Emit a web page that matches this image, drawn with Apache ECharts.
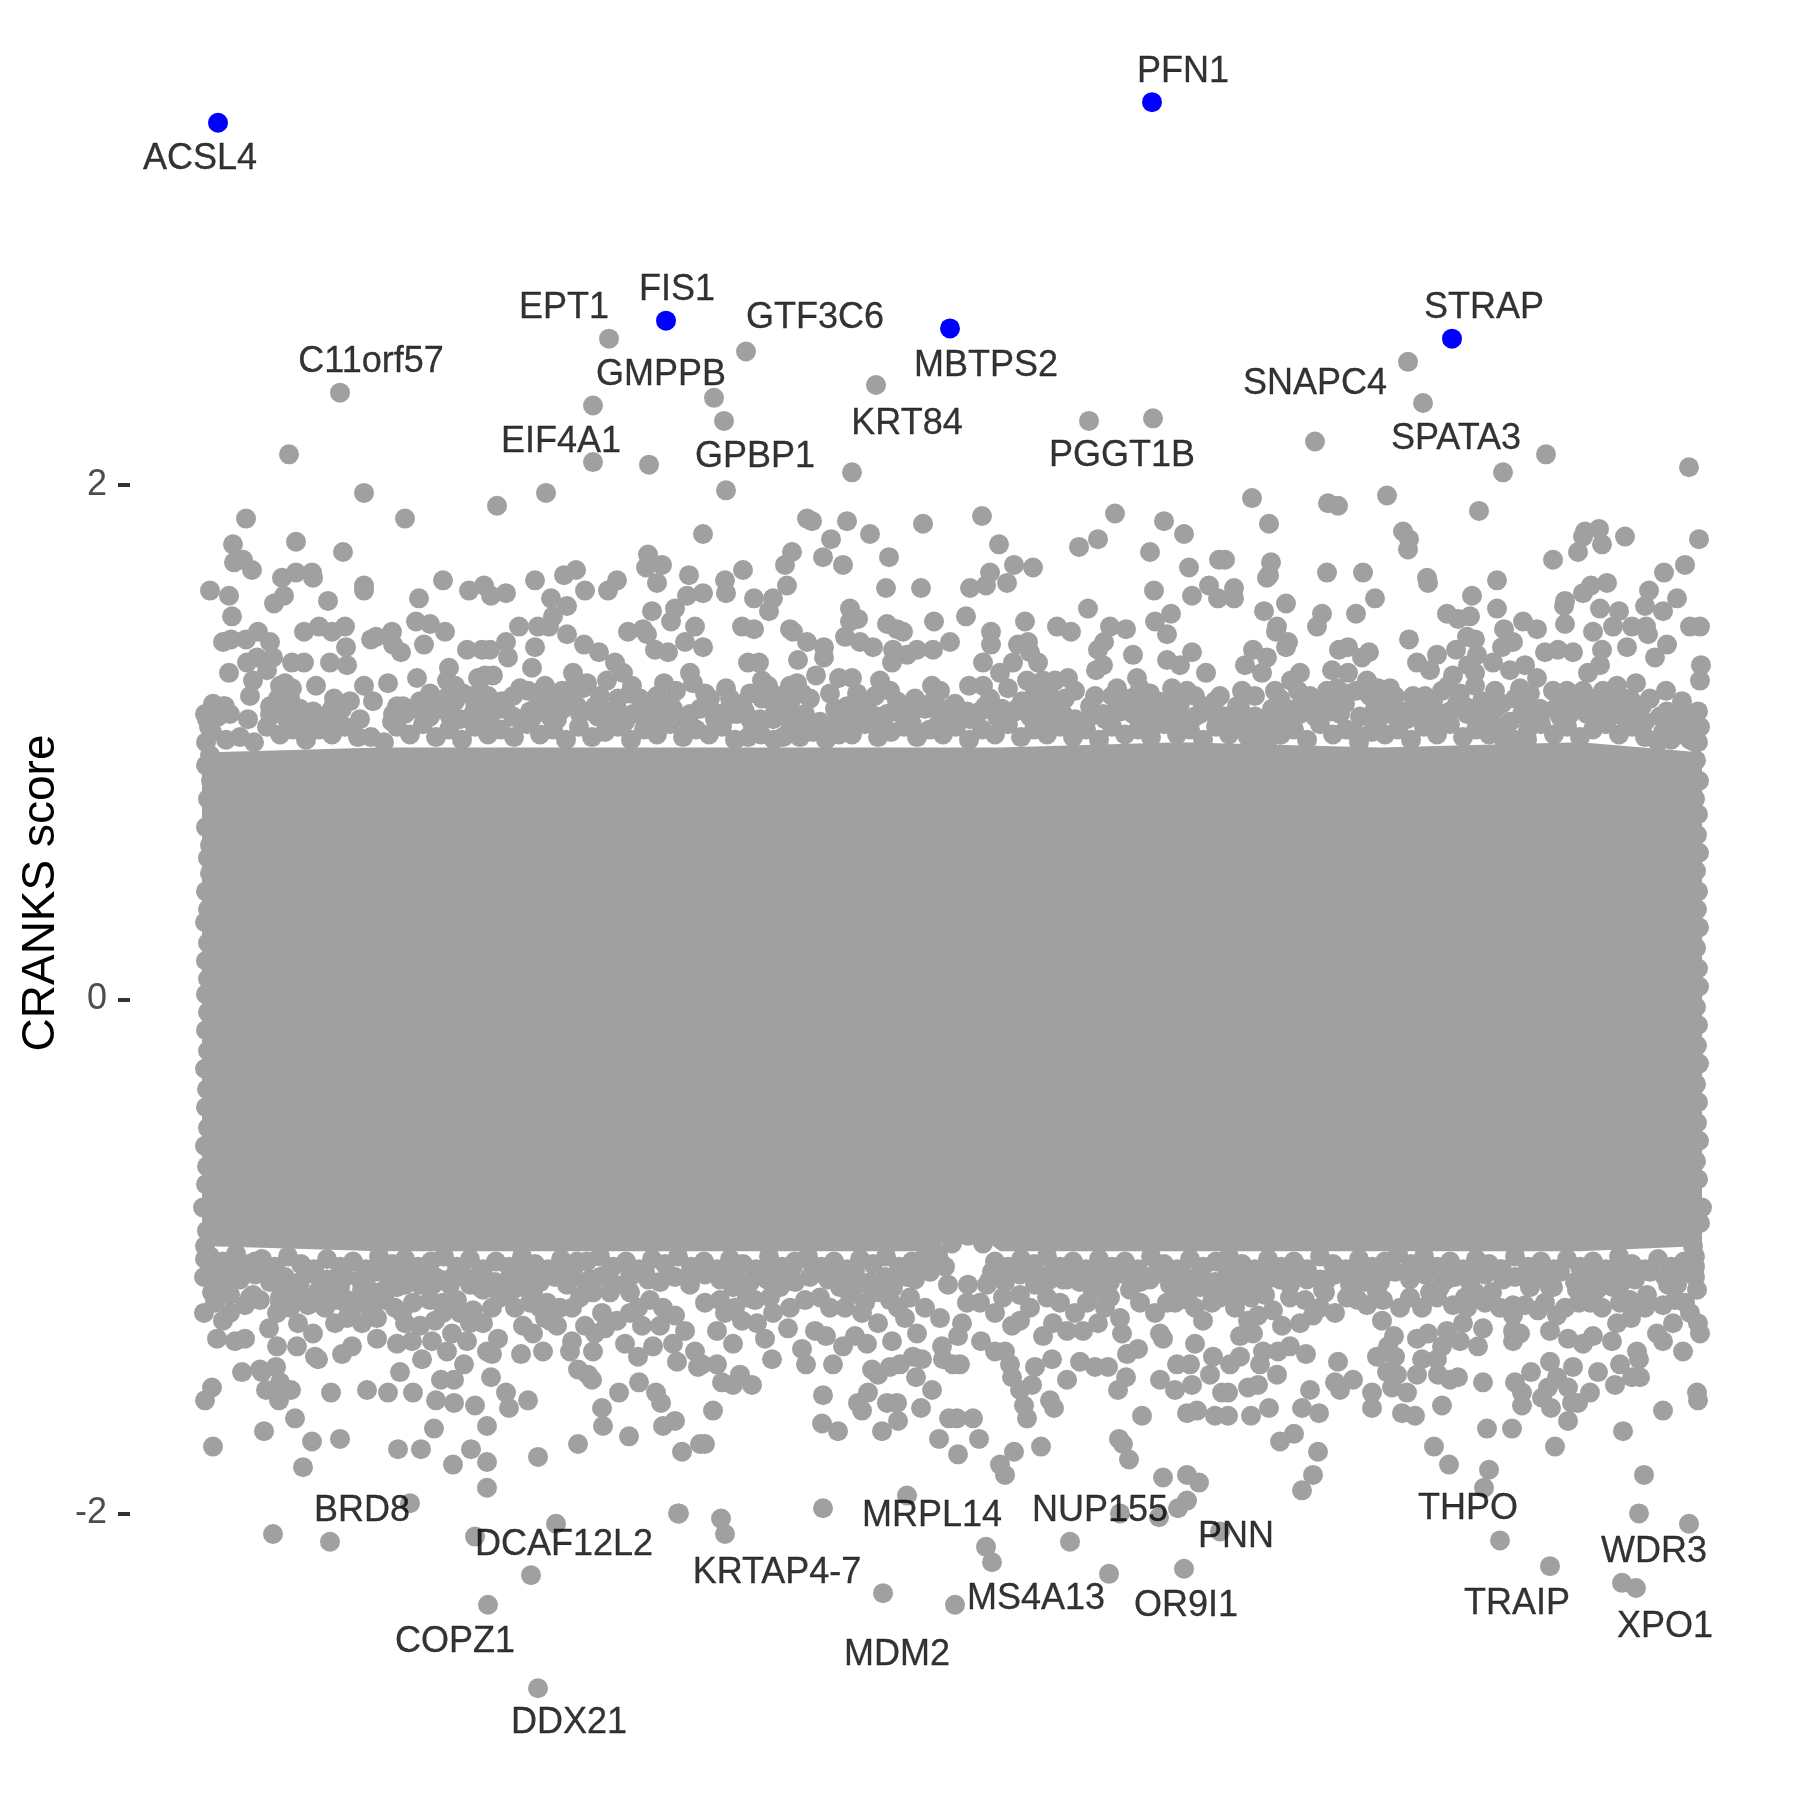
<!DOCTYPE html>
<html lang="en">
  <head>
    <meta charset="utf-8" />
    <title>CRANKS score</title>
    <script src="https://cdn.jsdelivr.net/npm/echarts@6/dist/echarts.min.js"></script>
    <style>
      html, body { margin: 0; background: #fff; }
      #chart { width: 1800px; height: 1800px; }
    </style>
  </head>
  <body>
    <div id="chart"></div>
    <script>
      // x is gene order (no axis drawn), y is the CRANKS score, all read off the picture
      const hitGenes = [[88, 3.41], [536, 2.64], [820, 2.61], [1022, 3.49], [1322, 2.57]]

      const farDots = [
        [479, 2.57], [616, 2.52], [746, 2.39], [210, 2.36], [463, 2.31], [584, 2.34], [594, 2.25], [159, 2.12], [463, 2.09],
        [519, 2.08], [722, 2.05], [596, 1.98], [416, 1.97], [234, 1.97], [1278, 2.48], [1293, 2.32], [959, 2.25], [1023, 2.26],
        [1185, 2.17], [1416, 2.12], [1373, 2.05], [1559, 2.07]
      ]

      const upperLeftDots = [
        [367, 1.92], [116, 1.87], [275, 1.87], [103, 1.77], [166, 1.78], [213, 1.74], [113, 1.71], [104, 1.70], [122, 1.67], [80, 1.59],
        [99, 1.57], [102, 1.49], [152, 1.64], [166, 1.66], [182, 1.66], [183, 1.64], [154, 1.57], [144, 1.54], [198, 1.55], [234, 1.61],
        [234, 1.59], [313, 1.63], [339, 1.59], [354, 1.61], [361, 1.57], [376, 1.58], [289, 1.56], [405, 1.63], [434, 1.65], [446, 1.67],
        [455, 1.59], [478, 1.59], [487, 1.63], [421, 1.56], [437, 1.53], [423, 1.49], [419, 1.45], [408, 1.45], [518, 1.73], [516, 1.68],
        [532, 1.69], [527, 1.62], [559, 1.65], [573, 1.81], [522, 1.51], [545, 1.52], [541, 1.47], [557, 1.57], [498, 1.43], [513, 1.44],
        [517, 1.42], [525, 1.36], [538, 1.35], [555, 1.39], [565, 1.45], [93, 1.39], [101, 1.40], [116, 1.40], [128, 1.43], [140, 1.39],
        [174, 1.43], [189, 1.45], [202, 1.43], [215, 1.45], [216, 1.37], [241, 1.40], [246, 1.41], [262, 1.43], [263, 1.38], [271, 1.35],
        [286, 1.47], [300, 1.46], [315, 1.43], [294, 1.38], [389, 1.45], [376, 1.39], [337, 1.36], [352, 1.36], [360, 1.36], [378, 1.33],
        [405, 1.37], [402, 1.29], [437, 1.42], [454, 1.38], [469, 1.35], [485, 1.31], [493, 1.27], [443, 1.27], [457, 1.23], [477, 1.24],
        [502, 1.22], [500, 1.19], [534, 1.23], [560, 1.27], [563, 1.23], [99, 1.27], [117, 1.31], [127, 1.33], [143, 1.33], [137, 1.28],
        [123, 1.24], [120, 1.18], [155, 1.23], [162, 1.31], [174, 1.31], [200, 1.31], [217, 1.30], [186, 1.22], [234, 1.22], [243, 1.16],
        [258, 1.23], [287, 1.25], [319, 1.29], [317, 1.24], [325, 1.22], [325, 1.16], [355, 1.26], [348, 1.25], [363, 1.26], [358, 1.18],
        [345, 1.16], [204, 1.17], [220, 1.16], [383, 1.18], [398, 1.20], [407, 1.19], [423, 1.17], [438, 1.18], [453, 1.21], [148, 1.17],
        [160, 1.17], [85, 1.13], [95, 1.14], [77, 1.09], [118, 1.09], [143, 1.11], [183, 1.12], [202, 1.13], [230, 1.09], [267, 1.14],
        [290, 1.16], [303, 1.14], [343, 1.11], [400, 1.12], [427, 1.09], [462, 1.12], [480, 1.09], [517, 1.13], [540, 1.15]
      ]

      const upperMiddleDots = [
        [677, 1.87], [682, 1.86], [717, 1.86], [701, 1.79], [740, 1.81], [793, 1.85], [852, 1.88], [869, 1.77], [662, 1.74], [655, 1.69],
        [693, 1.72], [713, 1.69], [759, 1.72], [613, 1.67], [595, 1.63], [596, 1.58], [573, 1.58], [657, 1.61], [756, 1.60], [791, 1.60],
        [624, 1.56], [643, 1.56], [639, 1.51], [884, 1.69], [903, 1.68], [860, 1.66], [856, 1.61], [840, 1.60], [877, 1.62], [949, 1.76],
        [968, 1.79], [985, 1.89], [1034, 1.86], [1054, 1.81], [1020, 1.74], [1059, 1.68], [1089, 1.71], [1079, 1.61], [1062, 1.57], [1088, 1.56],
        [1024, 1.59], [958, 1.52], [1041, 1.50], [1025, 1.47], [1037, 1.42], [720, 1.52], [720, 1.47], [728, 1.48], [715, 1.41], [730, 1.39],
        [743, 1.37], [757, 1.46], [767, 1.44], [773, 1.43], [804, 1.47], [836, 1.49], [820, 1.39], [895, 1.47], [861, 1.43], [861, 1.38],
        [803, 1.36], [787, 1.36], [777, 1.34], [763, 1.36], [762, 1.31], [612, 1.45], [624, 1.44], [660, 1.44], [663, 1.43], [677, 1.39],
        [694, 1.37], [694, 1.33], [668, 1.32], [618, 1.31], [629, 1.31], [573, 1.37], [686, 1.26], [709, 1.25], [722, 1.25], [750, 1.24],
        [802, 1.22], [839, 1.22], [853, 1.22], [853, 1.31], [888, 1.38], [898, 1.39], [900, 1.35], [883, 1.31], [908, 1.31], [870, 1.27],
        [927, 1.45], [941, 1.43], [980, 1.45], [996, 1.44], [974, 1.39], [968, 1.36], [973, 1.30], [966, 1.28], [1003, 1.34], [1037, 1.32],
        [1062, 1.35], [1050, 1.30], [1076, 1.27], [1007, 1.25], [1042, 1.21], [1057, 1.20], [1073, 1.14], [938, 1.25], [925, 1.24], [913, 1.24],
        [897, 1.24], [935, 1.17], [987, 1.21], [982, 1.18], [1010, 1.21], [1028, 1.16], [632, 1.24], [638, 1.22], [632, 1.17], [638, 1.18],
        [660, 1.22], [667, 1.23], [672, 1.19], [660, 1.15], [596, 1.21], [580, 1.17], [612, 1.15], [643, 1.09], [727, 1.19], [717, 1.14],
        [737, 1.15], [767, 1.16], [773, 1.14], [803, 1.16], [820, 1.13], [837, 1.12], [850, 1.12], [867, 1.10], [892, 1.16], [917, 1.14],
        [960, 1.10], [1003, 1.11], [1040, 1.09], [708, 1.09], [602, 1.11], [623, 1.06], [782, 1.07], [653, 1.02], [937, 1.06], [1060, 1.09],
        [1087, 1.09]
      ]

      const upperRightDots = [
        [1122, 1.95], [1139, 1.85], [1198, 1.93], [1208, 1.92], [1257, 1.96], [1349, 1.90], [1273, 1.82], [1279, 1.79], [1278, 1.75], [1095, 1.71],
        [1141, 1.70], [1139, 1.65], [1137, 1.64], [1197, 1.66], [1233, 1.66], [1297, 1.64], [1298, 1.62], [1423, 1.71], [1448, 1.74], [1455, 1.82],
        [1453, 1.80], [1469, 1.83], [1472, 1.77], [1495, 1.80], [1569, 1.79], [1555, 1.69], [1534, 1.66], [1367, 1.63], [1104, 1.60], [1104, 1.56],
        [1461, 1.61], [1477, 1.62], [1453, 1.58], [1435, 1.55], [1434, 1.53], [1519, 1.59], [1515, 1.53], [1547, 1.56], [1533, 1.51], [1342, 1.57],
        [1367, 1.52], [1245, 1.56], [1317, 1.50], [1328, 1.48], [1340, 1.49], [1470, 1.52], [1489, 1.51], [1134, 1.51], [1156, 1.54], [1192, 1.50],
        [1187, 1.45], [1226, 1.50], [1147, 1.45], [1146, 1.43], [1156, 1.37], [1158, 1.39], [1393, 1.47], [1407, 1.44], [1374, 1.44], [1383, 1.39],
        [1372, 1.37], [1435, 1.46], [1463, 1.43], [1483, 1.45], [1502, 1.45], [1516, 1.45], [1518, 1.42], [1560, 1.45], [1570, 1.45], [1279, 1.40],
        [1337, 1.41], [1345, 1.40], [1326, 1.36], [1307, 1.34], [1287, 1.31], [1300, 1.28], [1345, 1.27], [1347, 1.34], [1363, 1.31], [1338, 1.30],
        [1537, 1.38], [1497, 1.37], [1525, 1.33], [1472, 1.36], [1470, 1.30], [1458, 1.27], [1571, 1.30], [1570, 1.24], [1415, 1.35], [1428, 1.36],
        [1443, 1.35], [1395, 1.30], [1380, 1.28], [1407, 1.25], [1487, 1.22], [1506, 1.23], [1536, 1.20], [1123, 1.36], [1137, 1.33], [1115, 1.30],
        [1132, 1.27], [1170, 1.27], [1161, 1.24], [1168, 1.20], [1112, 1.20], [1107, 1.14], [1090, 1.18], [1145, 1.20], [1209, 1.36], [1218, 1.37],
        [1232, 1.33], [1239, 1.35], [1202, 1.28], [1218, 1.27], [1237, 1.24], [1248, 1.21], [1226, 1.20], [1197, 1.20], [1207, 1.21], [1247, 1.11],
        [1247, 1.16], [1323, 1.26], [1318, 1.22], [1265, 1.18], [1283, 1.18], [1303, 1.16], [1352, 1.16], [1372, 1.15], [1390, 1.21], [1392, 1.11],
        [1410, 1.13], [1423, 1.20], [1437, 1.20], [1453, 1.20], [1473, 1.20], [1512, 1.14], [1537, 1.12], [1553, 1.13], [1568, 1.12], [1534, 1.04],
        [1560, 1.01], [1557, 1.06], [1105, 1.07], [1142, 1.13], [1157, 1.13], [1178, 1.13], [1203, 1.14], [1267, 1.11], [1287, 1.11], [1327, 1.15],
        [1360, 1.08], [1430, 1.10], [1483, 1.13], [1500, 1.11], [1150, 1.03], [1227, 1.03], [1397, 1.01], [1457, 1.11], [1118, 1.02], [1137, 0.99]
      ]

      // upper edge of the cloud, estimated where the dots run together
      const upperRimDots = [
        [75, 1.11], [83, 1.15], [93, 1.14], [100, 1.11], [140, 1.11], [150, 1.16], [158, 1.13], [167, 1.10], [177, 1.07], [193, 1.10], [207, 1.11], [263, 1.11],
        [273, 1.14], [283, 1.13], [297, 1.14], [310, 1.13], [320, 1.10], [358, 1.13], [370, 1.13], [383, 1.10], [403, 1.10], [417, 1.13], [433, 1.13], [447, 1.14],
        [468, 1.10], [487, 1.13], [503, 1.11], [527, 1.14], [543, 1.13], [560, 1.11], [580, 1.13], [590, 1.11], [607, 1.11], [620, 1.09], [663, 1.11], [670, 1.06],
        [703, 1.05], [717, 1.11], [730, 1.11], [747, 1.10], [757, 1.11], [810, 1.13], [827, 1.11], [872, 1.13], [887, 1.13], [900, 1.10], [933, 1.11], [973, 1.11],
        [987, 1.14], [1020, 1.13], [1028, 1.11], [1050, 1.10], [1070, 1.11], [1112, 1.11], [1123, 1.05], [1170, 1.11], [1190, 1.14], [1210, 1.11], [1247, 1.07], [1260, 1.11],
        [1277, 1.09], [1297, 1.11], [1310, 1.11], [1337, 1.11], [1373, 1.06], [1440, 1.11], [1470, 1.13], [1493, 1.10], [1510, 1.07], [1533, 1.04], [1570, 1.06],
        [82, 1.04], [96, 1.01], [110, 1.02], [124, 1.00], [137, 1.06], [150, 1.03], [163, 1.05], [176, 1.01], [189, 1.05], [202, 1.03], [215, 1.06], [228, 1.02],
        [241, 1.02], [254, 1.00], [267, 1.06], [280, 1.03], [293, 1.07], [306, 1.02], [319, 1.05], [332, 1.01], [345, 1.06], [358, 1.03], [371, 1.05], [384, 1.02],
        [397, 1.07], [410, 1.03], [423, 1.05], [436, 1.01], [449, 1.06], [462, 1.02], [475, 1.04], [488, 1.06], [501, 1.01], [514, 1.05], [527, 1.03], [540, 1.07],
        [553, 1.02], [566, 1.05], [579, 1.03], [592, 1.06], [605, 1.01], [618, 1.02], [631, 1.03], [644, 1.01], [657, 1.03], [670, 1.02], [683, 1.04], [696, 1.01],
        [709, 1.03], [722, 1.03], [735, 1.07], [748, 1.02], [761, 1.04], [774, 1.06], [787, 1.02], [800, 1.05], [813, 1.03], [826, 1.06], [839, 1.01], [852, 1.05],
        [865, 1.03], [878, 1.07], [891, 1.02], [904, 1.05], [917, 1.03], [930, 1.06], [943, 1.02], [956, 1.05], [969, 1.01], [982, 1.06], [995, 1.03], [1008, 1.05],
        [1021, 1.02], [1034, 1.07], [1047, 1.03], [1060, 1.05], [1073, 1.01], [1086, 1.06], [1099, 1.03], [1112, 1.05], [1125, 1.00], [1138, 1.02], [1151, 1.03], [1164, 1.05],
        [1177, 1.01], [1190, 1.07], [1203, 1.03], [1216, 1.05], [1229, 1.00], [1242, 1.04], [1255, 1.03], [1268, 1.05], [1281, 1.01], [1294, 1.06], [1307, 1.03], [1320, 1.07],
        [1333, 1.02], [1346, 1.05], [1359, 1.03], [1372, 1.02], [1385, 1.01], [1398, 1.05], [1411, 1.07], [1424, 1.03], [1437, 1.06], [1450, 1.02], [1463, 1.05], [1476, 1.07],
        [1489, 1.03], [1502, 1.06], [1515, 1.02], [1528, 1.00], [1541, 1.01], [1554, 1.03], [1565, 1.00]
      ]

      const upperFillDots = [
        [88, 1.10], [140, 1.14], [155, 1.10], [170, 1.13], [185, 1.08], [200, 1.10], [212, 1.13], [262, 1.08], [275, 1.11], [288, 1.14], [300, 1.10], [315, 1.13],
        [330, 1.09], [345, 1.13], [360, 1.10], [375, 1.14], [390, 1.09], [405, 1.13], [420, 1.10], [435, 1.15], [450, 1.11], [465, 1.14], [480, 1.12], [495, 1.08],
        [510, 1.12], [525, 1.09], [540, 1.12], [555, 1.09], [570, 1.13], [585, 1.09], [600, 1.14], [615, 1.12], [630, 1.09], [645, 1.12], [660, 1.08], [675, 1.11],
        [690, 1.08], [705, 1.13], [720, 1.09], [735, 1.14], [750, 1.09], [765, 1.12], [780, 1.10], [795, 1.13], [810, 1.09], [825, 1.15], [840, 1.09], [855, 1.14],
        [870, 1.09], [885, 1.12], [900, 1.15], [915, 1.10], [930, 1.14], [945, 1.09], [960, 1.14], [975, 1.09], [990, 1.12], [1005, 1.15], [1020, 1.09], [1035, 1.13],
        [1050, 1.15], [1065, 1.10], [1080, 1.13], [1095, 1.10], [1110, 1.14], [1125, 1.10], [1140, 1.08], [1155, 1.10], [1170, 1.14], [1185, 1.10], [1200, 1.12], [1215, 1.15],
        [1230, 1.10], [1245, 1.13], [1260, 1.14], [1275, 1.12], [1290, 1.14], [1305, 1.09], [1320, 1.12], [1335, 1.14], [1350, 1.10], [1365, 1.13], [1380, 1.08], [1395, 1.14],
        [1410, 1.09], [1425, 1.13], [1440, 1.15], [1455, 1.14], [1470, 1.09], [1485, 1.15], [1500, 1.14], [1515, 1.08], [1530, 1.10], [1545, 1.08], [1560, 1.10],
        [150, 1.22], [162, 1.21], [300, 1.19], [315, 1.17], [333, 1.19], [350, 1.20], [372, 1.16], [390, 1.21], [415, 1.22], [432, 1.20], [445, 1.23], [470, 1.18],
        [488, 1.17], [510, 1.17], [527, 1.18], [546, 1.20], [575, 1.19], [600, 1.17], [620, 1.19], [650, 1.18], [680, 1.17], [700, 1.19], [745, 1.18], [760, 1.20],
        [785, 1.17], [810, 1.20], [860, 1.17], [878, 1.21], [905, 1.20], [920, 1.18], [945, 1.20], [965, 1.18], [1000, 1.17], [1020, 1.19], [1045, 1.17], [1065, 1.18],
        [1085, 1.16], [1125, 1.18], [1150, 1.17], [1180, 1.18], [1195, 1.17], [1215, 1.19], [1240, 1.18], [1260, 1.21], [1295, 1.18], [1312, 1.20], [1330, 1.19], [1345, 1.22],
        [1365, 1.20], [1385, 1.17], [1400, 1.19], [1430, 1.18], [1445, 1.17], [1465, 1.17], [1480, 1.18], [1500, 1.17], [1520, 1.17], [1552, 1.16]
      ]

      const lowerLeftDots = [
        [74, -1.22], [93, -1.25], [87, -1.32], [105, -1.33], [115, -1.32], [123, -1.15], [120, -1.16], [139, -1.28], [147, -1.35], [167, -1.35],
        [168, -1.26], [183, -1.30], [185, -1.39], [188, -1.40], [212, -1.38], [222, -1.35], [205, -1.26], [112, -1.45], [130, -1.44], [132, -1.45],
        [146, -1.43], [150, -1.49], [136, -1.52], [161, -1.52], [149, -1.56], [82, -1.51], [75, -1.56], [201, -1.53], [237, -1.52], [258, -1.53],
        [283, -1.53], [270, -1.45], [311, -1.48], [324, -1.48], [306, -1.56], [324, -1.57], [345, -1.58], [334, -1.42], [361, -1.47], [376, -1.53],
        [379, -1.59], [398, -1.56], [357, -1.37], [362, -1.38], [368, -1.32], [391, -1.38], [413, -1.37], [442, -1.33], [440, -1.37], [465, -1.30],
        [463, -1.37], [448, -1.44], [462, -1.48], [458, -1.46], [489, -1.53], [509, -1.49], [526, -1.53], [531, -1.57], [495, -1.34], [508, -1.39],
        [547, -1.41], [565, -1.37], [523, -1.35], [543, -1.34], [568, -1.43], [472, -1.59], [473, -1.66], [499, -1.70], [533, -1.66], [545, -1.64],
        [448, -1.73], [552, -1.76], [570, -1.73], [165, -1.63], [134, -1.68], [182, -1.72], [210, -1.71], [83, -1.74], [268, -1.75], [291, -1.75],
        [304, -1.67], [357, -1.66], [341, -1.75], [408, -1.78], [323, -1.81], [357, -1.80], [173, -1.82], [357, -1.90], [280, -1.96], [548, -2.00],
        [143, -2.08], [200, -2.11], [345, -2.09], [426, -2.04], [401, -2.24], [358, -2.355], [408, -2.68], [103, -1.09], [100, -1.15], [82, -1.14],
        [90, -1.07], [147, -1.22], [150, -1.16], [175, -1.16], [193, -1.16], [215, -1.18], [217, -1.24], [237, -1.14], [232, -1.26], [247, -1.24],
        [247, -1.32], [267, -1.34], [282, -1.33], [272, -1.22], [283, -1.18], [290, -1.27], [292, -1.40], [302, -1.33], [317, -1.37], [322, -1.30],
        [337, -1.33], [313, -1.18], [313, -1.22], [327, -1.17], [343, -1.21], [353, -1.26], [362, -1.20], [383, -1.13], [393, -1.27], [403, -1.30],
        [427, -1.27], [417, -1.18], [442, -1.20], [437, -1.11], [472, -1.22], [460, -1.09], [463, -1.14], [487, -1.25], [480, -1.14], [500, -1.14],
        [508, -1.20], [512, -1.27], [533, -1.20], [530, -1.27], [555, -1.29], [560, -1.07], [518, -1.09], [350, -1.12], [310, -1.09], [283, -1.09],
        [257, -1.12], [237, -1.12], [197, -1.09], [130, -1.05], [75, -1.01], [74, -1.08]
      ]

      const lowerMiddleDots = [
        [575, -1.73], [583, -1.60], [693, -1.98], [549, -2.00], [591, -2.02], [595, -2.08], [777, -1.93], [940, -2.11], [856, -2.13], [862, -2.19],
        [979, -2.235], [1054, -2.215], [753, -2.31], [825, -2.355], [990, -2.00], [1029, -2.015], [1048, -1.98], [1057, -1.95], [1033, -1.86], [1057, -1.85],
        [1069, -1.88], [1090, -2.07], [875, -1.85], [870, -1.81], [884, -1.76], [911, -1.74], [999, -1.79], [993, -1.73], [989, -1.71], [828, -1.77],
        [849, -1.71], [809, -1.71], [843, -1.63], [819, -1.63], [827, -1.63], [693, -1.54], [692, -1.65], [708, -1.68], [752, -1.68], [768, -1.64],
        [732, -1.60], [728, -1.57], [738, -1.53], [757, -1.57], [767, -1.57], [791, -1.59], [802, -1.52], [786, -1.47], [1012, -1.62], [1057, -1.61],
        [1067, -1.60], [1085, -1.62], [897, -1.63], [894, -1.58], [924, -1.59], [920, -1.56], [988, -1.52], [996, -1.47], [937, -1.48], [902, -1.50],
        [890, -1.52], [882, -1.47], [880, -1.42], [875, -1.37], [865, -1.37], [851, -1.33], [905, -1.43], [922, -1.40], [950, -1.41], [965, -1.43],
        [978, -1.43], [997, -1.38], [1008, -1.36], [992, -1.30], [1030, -1.30], [1033, -1.32], [1065, -1.34], [1030, -1.48], [1045, -1.52], [1062, -1.50],
        [1047, -1.42], [1060, -1.42], [1083, -1.39], [1080, -1.46], [592, -1.49], [603, -1.50], [622, -1.50], [610, -1.46], [587, -1.42], [572, -1.42],
        [642, -1.40], [603, -1.34], [635, -1.32], [658, -1.28], [672, -1.36], [676, -1.42], [685, -1.29], [696, -1.31], [703, -1.42], [713, -1.35],
        [725, -1.31], [737, -1.34], [748, -1.26], [768, -1.20], [762, -1.33], [787, -1.30], [742, -1.44], [748, -1.46], [760, -1.43], [770, -1.42],
        [783, -1.39], [792, -1.40], [812, -1.35], [813, -1.40], [830, -1.42], [823, -1.42], [828, -1.31], [832, -1.26], [818, -1.11], [838, -1.11],
        [837, -1.18], [882, -1.27], [890, -1.25], [913, -1.31], [923, -1.26], [937, -1.29], [953, -1.29], [968, -1.26], [990, -1.24], [1037, -1.18],
        [1058, -1.17], [1073, -1.25], [643, -1.22], [627, -1.26], [612, -1.25], [595, -1.22], [587, -1.29], [675, -1.17], [700, -1.20], [715, -1.20],
        [732, -1.22], [650, -1.12], [790, -1.04], [780, -1.16], [750, -1.14], [857, -1.11], [873, -1.16], [890, -1.15], [937, -1.09], [970, -1.12],
        [1003, -1.09], [1082, -1.18], [917, -1.16], [957, -1.18]
      ]

      const lowerRightDots = [
        [1567, -1.53], [1568, -1.56], [1533, -1.60], [1493, -1.68], [1514, -1.85], [1509, -2.00], [1559, -2.04], [1370, -2.105], [1420, -2.205], [1492, -2.27],
        [1506, -2.29], [1304, -1.74], [1319, -1.81], [1359, -1.83], [1354, -1.90], [1172, -1.91], [1425, -1.74], [1382, -1.67], [1357, -1.67], [1438, -1.64],
        [1312, -1.58], [1353, -1.49], [1285, -1.62], [1272, -1.61], [1242, -1.59], [1242, -1.53], [1210, -1.52], [1208, -1.41], [1205, -1.49], [1223, -1.48],
        [1188, -1.76], [1183, -1.85], [1164, -1.69], [1150, -1.72], [1139, -1.59], [1121, -1.62], [1172, -1.59], [1189, -1.61], [1180, -1.52], [1147, -1.46],
        [1128, -1.50], [1118, -1.51], [1098, -1.62], [1098, -1.53], [1130, -1.42], [1133, -1.37], [1148, -1.37], [1160, -1.35], [1176, -1.38], [1100, -1.42],
        [1110, -1.31], [1123, -1.30], [1110, -1.39], [1092, -1.53], [1121, -1.16], [1128, -1.23], [1143, -1.21], [1152, -1.27], [1160, -1.16], [1170, -1.26],
        [1183, -1.23], [1195, -1.14], [1217, -1.16], [1237, -1.19], [1253, -1.17], [1247, -1.14], [1252, -1.25], [1264, -1.31], [1258, -1.35], [1247, -1.39],
        [1265, -1.39], [1257, -1.45], [1267, -1.46], [1262, -1.51], [1277, -1.53], [1287, -1.46], [1292, -1.40], [1287, -1.32], [1298, -1.30], [1307, -1.40],
        [1308, -1.46], [1320, -1.48], [1328, -1.47], [1312, -1.35], [1330, -1.33], [1317, -1.29], [1333, -1.26], [1353, -1.28], [1348, -1.35], [1335, -1.16],
        [1337, -1.20], [1323, -1.19], [1292, -1.20], [1307, -1.16], [1343, -1.06], [1282, -1.06], [1362, -1.14], [1383, -1.19], [1383, -1.23], [1383, -1.29],
        [1390, -1.30], [1383, -1.33], [1408, -1.21], [1427, -1.23], [1420, -1.29], [1438, -1.32], [1453, -1.34], [1463, -1.31], [1482, -1.33], [1449, -1.18],
        [1472, -1.20], [1490, -1.18], [1487, -1.26], [1501, -1.24], [1420, -1.41], [1401, -1.45], [1443, -1.43], [1385, -1.49], [1392, -1.53], [1392, -1.58],
        [1418, -1.51], [1412, -1.55], [1421, -1.59], [1427, -1.47], [1438, -1.51], [1442, -1.57], [1448, -1.57], [1460, -1.53], [1468, -1.45], [1485, -1.50],
        [1490, -1.42], [1507, -1.37], [1509, -1.40], [1502, -1.47], [1510, -1.47], [1527, -1.30], [1533, -1.33], [1553, -1.37], [1533, -1.19], [1555, -1.18],
        [1543, -1.26], [1570, -1.30], [1568, -1.26], [1567, -1.13], [1538, -1.11], [1517, -1.15], [1107, -1.14], [1097, -1.07], [1423, -1.12], [1450, -1.13],
        [1400, -1.12], [1373, -1.09], [1467, -1.13], [1490, -1.11], [1310, -1.12], [1223, -1.09], [1197, -1.09], [1170, -1.08], [1133, -1.07], [1110, -1.05]
      ]

      // lower edge of the cloud, estimated where the dots run together
      const lowerRimDots = [
        [83, -1.07], [98, -1.03], [110, -1.05], [125, -1.02], [147, -1.09], [160, -1.13], [173, -1.16], [150, -1.18], [187, -1.14], [197, -1.16], [210, -1.12], [217, -1.17],
        [232, -1.13], [250, -1.14], [267, -1.12], [277, -1.07], [290, -1.11], [303, -1.11], [323, -1.08], [340, -1.11], [353, -1.13], [380, -1.12], [393, -1.12], [403, -1.14],
        [410, -1.20], [420, -1.25], [447, -1.02], [477, -1.07], [590, -1.09], [603, -1.12], [617, -1.16], [637, -1.09], [663, -1.04], [683, -1.04], [698, -1.09], [710, -1.12],
        [727, -1.11], [743, -1.14], [763, -1.12], [777, -1.08], [797, -1.03], [810, -1.02], [860, -1.09], [870, -1.08], [907, -1.08], [920, -1.07], [933, -1.09], [947, -1.08],
        [963, -1.14], [980, -1.16], [1000, -1.13], [1020, -1.09], [1037, -1.07], [1053, -1.14], [1070, -1.12], [1083, -1.16], [1100, -1.07], [1123, -1.08], [1137, -1.09], [1150, -1.09],
        [1163, -1.08], [1177, -1.09], [1193, -1.13], [1220, -1.11], [1233, -1.08], [1253, -1.07], [1293, -1.05], [1317, -1.09], [1397, -1.09], [1420, -1.12], [1447, -1.13], [1460, -1.11],
        [1483, -1.12], [1547, -1.11],
        [80, -1.00], [93, -1.02], [106, -0.99], [119, -1.03], [132, -1.01], [145, -1.04], [158, -1.00], [171, -1.03], [184, -1.05], [197, -1.01], [210, -1.04], [223, -1.02],
        [236, -1.05], [249, -1.00], [262, -1.03], [275, -1.01], [288, -1.04], [301, -1.02], [314, -1.00], [327, -1.04], [340, -1.01], [353, -1.05], [366, -1.02], [379, -1.04],
        [392, -1.00], [405, -1.03], [418, -1.05], [431, -1.01], [444, -1.04], [457, -1.02], [470, -1.00], [483, -1.04], [496, -1.02], [509, -1.05], [522, -1.01], [535, -1.03],
        [548, -1.00], [561, -1.04], [574, -1.02], [587, -1.05], [600, -1.01], [613, -1.03], [626, -1.05], [639, -1.00], [652, -1.04], [665, -1.02], [678, -1.00], [691, -1.04],
        [704, -1.02], [717, -1.05], [730, -1.01], [743, -1.03], [756, -1.00], [769, -1.04], [782, -1.02], [795, -1.00], [808, -0.99], [822, -0.95], [838, -0.92], [853, -0.95], [865, -1.02], [878, -1.04], [891, -1.01],
        [904, -1.03], [917, -1.00], [930, -1.04], [943, -1.02], [956, -1.05], [969, -1.01], [982, -1.04], [995, -1.02], [1008, -1.05], [1021, -1.00], [1034, -1.03], [1047, -1.05],
        [1060, -1.01], [1073, -1.04], [1086, -1.02], [1099, -1.00], [1112, -1.03], [1125, -1.05], [1138, -1.01], [1151, -1.04], [1164, -1.02], [1177, -1.05], [1190, -1.00], [1203, -1.03],
        [1216, -1.05], [1229, -1.01], [1242, -1.04], [1255, -1.02], [1268, -0.99], [1281, -1.03], [1294, -1.00], [1307, -1.04], [1320, -1.02], [1333, -1.05], [1346, -1.01], [1359, -1.03],
        [1372, -1.05], [1385, -1.00], [1398, -1.04], [1411, -1.02], [1424, -1.05], [1437, -1.01], [1450, -1.04], [1463, -1.02], [1476, -1.05], [1489, -1.00], [1502, -1.03], [1515, -1.05],
        [1528, -1.01], [1541, -1.04], [1554, -1.02], [1565, -1.00]
      ]

      const lowerFillDots = [
        [80, -1.06], [95, -1.10], [110, -1.09], [125, -1.07], [140, -1.10], [155, -1.08], [170, -1.10], [185, -1.07], [200, -1.11], [215, -1.08], [230, -1.09], [245, -1.06],
        [260, -1.09], [275, -1.11], [290, -1.07], [305, -1.08], [320, -1.11], [335, -1.08], [350, -1.07], [365, -1.10], [380, -1.08], [395, -1.07], [410, -1.10], [425, -1.08],
        [440, -1.06], [455, -1.10], [470, -1.08], [485, -1.11], [500, -1.08], [515, -1.06], [530, -1.10], [545, -1.08], [560, -1.11], [575, -1.07], [590, -1.06], [605, -1.08],
        [620, -1.10], [635, -1.06], [650, -1.08], [665, -1.10], [680, -1.08], [695, -1.06], [710, -1.08], [725, -1.06], [740, -1.10], [755, -1.08], [770, -1.06], [785, -1.09],
        [800, -1.06], [815, -1.04], [862, -1.06], [875, -1.10], [890, -1.07], [905, -1.11], [920, -1.09], [935, -1.06], [950, -1.10], [965, -1.07], [980, -1.10], [995, -1.07],
        [1010, -1.10], [1025, -1.07], [1040, -1.11], [1055, -1.08], [1070, -1.07], [1085, -1.10], [1100, -1.11], [1115, -1.09], [1130, -1.11], [1145, -1.07], [1160, -1.11], [1175, -1.07],
        [1190, -1.09], [1205, -1.07], [1220, -1.07], [1235, -1.10], [1250, -1.10], [1265, -1.06], [1280, -1.09], [1295, -1.07], [1310, -1.06], [1325, -1.08], [1340, -1.10], [1355, -1.07],
        [1370, -1.05], [1385, -1.08], [1400, -1.06], [1415, -1.09], [1430, -1.06], [1445, -1.10], [1460, -1.07], [1475, -1.10], [1490, -1.06], [1505, -1.09], [1520, -1.06], [1535, -1.08],
        [1550, -1.06], [1565, -1.08],
        [85, -1.18], [100, -1.22], [115, -1.19], [130, -1.17], [160, -1.20], [178, -1.19], [195, -1.20], [205, -1.17], [225, -1.19], [240, -1.20], [255, -1.17], [265, -1.20],
        [275, -1.26], [300, -1.17], [305, -1.25], [330, -1.22], [340, -1.26], [370, -1.16], [385, -1.20], [400, -1.18], [415, -1.24], [430, -1.20], [450, -1.16], [455, -1.27],
        [475, -1.28], [500, -1.22], [520, -1.17], [545, -1.23], [575, -1.18], [590, -1.17], [605, -1.20], [625, -1.17], [640, -1.16], [660, -1.20], [690, -1.16], [720, -1.15],
        [735, -1.18], [760, -1.17], [775, -1.24], [795, -1.20], [810, -1.24], [850, -1.18], [865, -1.22], [900, -1.20], [930, -1.18], [945, -1.22], [975, -1.20], [1010, -1.18],
        [1025, -1.22], [1045, -1.18], [1065, -1.20], [1090, -1.16], [1105, -1.20], [1118, -1.25], [1135, -1.15], [1175, -1.17], [1190, -1.20], [1205, -1.22], [1228, -1.17], [1270, -1.20],
        [1280, -1.16], [1300, -1.14], [1345, -1.14], [1355, -1.18], [1370, -1.20], [1395, -1.19], [1415, -1.18], [1435, -1.20], [1460, -1.18], [1500, -1.17], [1515, -1.20], [1545, -1.17],
        [1560, -1.22]
      ]

      const edgeDots = [
        [79, 1.06], [76, 1.00], [80, 0.95], [76, 0.91], [81, 0.85], [78, 0.78], [82, 0.72], [76, 0.67], [80, 0.60], [78, 0.55], [80, 0.49], [76, 0.42],
        [78, 0.35], [75, 0.30], [78, 0.22], [76, 0.15], [78, 0.08], [76, 0.02], [78, -0.05], [76, -0.12], [78, -0.20], [75, -0.27], [77, -0.35], [76, -0.42],
        [78, -0.50], [75, -0.57], [77, -0.65], [76, -0.72], [73, -0.81], [77, -0.90], [75, -0.96],
        [1568, 1.00], [1566, 0.93], [1569, 0.85], [1565, 0.78], [1568, 0.72], [1567, 0.64], [1569, 0.57], [1566, 0.50], [1568, 0.42], [1567, 0.35], [1569, 0.28],
        [1566, 0.20], [1568, 0.12], [1569, 0.05], [1566, -0.03], [1568, -0.10], [1567, -0.18], [1569, -0.25], [1566, -0.33], [1568, -0.40], [1567, -0.48], [1569, -0.55],
        [1566, -0.63], [1568, -0.70], [1572, -0.81], [1570, -0.87], [1563, -0.96], [1565, -1.04]
      ]

      // filled body of the cloud, where single points can't be told apart any more
      const bandRank = [72, 250, 450, 650, 800, 825, 850, 870, 1050, 1250, 1450, 1572]
      const bandTop = [0.96, 0.98, 0.98, 0.98, 0.98, 0.98, 0.98, 0.98, 1.00, 0.98, 1.00, 0.96]
      const bandBottom = [-0.96, -0.98, -0.98, -0.98, -0.98, -0.92, -0.92, -0.98, -0.98, -0.98, -0.98, -0.96]

      const geneLabels = [
        ['ACSL4', 70, 3.28], ['FIS1', 547, 2.77], ['EPT1', 434, 2.70], ['GTF3C6', 685, 2.66], ['C11orf57', 241, 2.49], ['GMPPB', 531, 2.44],
        ['EIF4A1', 431, 2.18], ['GPBP1', 625, 2.12], ['KRT84', 777, 2.25], ['PFN1', 1053, 3.62], ['MBTPS2', 856, 2.475], ['STRAP', 1354, 2.70],
        ['SNAPC4', 1185, 2.405], ['SPATA3', 1326, 2.19], ['PGGT1B', 992, 2.125], ['BRD8', 232, -1.98], ['DCAF12L2', 434, -2.11], ['KRTAP4-7', 647, -2.22],
        ['MRPL14', 802, -2.00], ['COPZ1', 325, -2.49], ['MDM2', 767, -2.54], ['DDX21', 439, -2.805], ['NUP155', 970, -1.98], ['PNN', 1106, -2.08],
        ['MS4A13', 906, -2.32], ['OR9I1', 1056, -2.35], ['THPO', 1338, -1.97], ['TRAIP', 1387, -2.34], ['WDR3', 1524, -2.14], ['XPO1', 1535, -2.43]
      ]

      const yTicks = [-2, 0, 2]
      const fontName = '"Liberation Sans", Arial, sans-serif'
      const dotGray = '#A0A0A0'

      const grayDots = [].concat(farDots, upperLeftDots, upperMiddleDots, upperRightDots, upperRimDots, upperFillDots,
        lowerLeftDots, lowerMiddleDots, lowerRightDots, lowerRimDots, lowerFillDots, edgeDots)

      const chart = echarts.init(document.getElementById('chart'), null, { renderer: 'canvas' })
      chart.setOption({
        animation: false,
        backgroundColor: '#fff',
        grid: { left: 130, top: 22.5, width: 1650, height: 1748, outerBoundsMode: 'none' },
        xAxis: { type: 'value', min: 0, max: 1650, show: false },
        yAxis: {
          type: 'value',
          min: -3,
          max: 3.8,
          offset: 1,
          name: 'CRANKS score',
          nameLocation: 'middle',
          nameGap: 62,
          nameRotate: 90,
          nameTextStyle: { fontFamily: fontName, fontSize: 46, color: '#000', padding: [0, 0, 0, 7] },
          axisLine: { show: false },
          splitLine: { show: false },
          axisTick: { customValues: yTicks, length: 12, lineStyle: { color: '#333', width: 4 } },
          axisLabel: { customValues: yTicks, margin: 22, padding: [4, 0, 0, 0], fontFamily: fontName, fontSize: 36, color: '#4D4D4D' }
        },
        series: [
          {
            type: 'custom',
            silent: true,
            data: [[0, 0]],
            renderItem: function (params, api) {
              const points = bandRank.map((r, i) => api.coord([r, bandTop[i]]))
              for (let i = bandRank.length - 1; i >= 0; i--) {
                points.push(api.coord([bandRank[i], bandBottom[i]]))
              }
              return { type: 'polygon', shape: { points: points }, style: { fill: dotGray } }
            }
          },
          {
            type: 'scatter',
            silent: true,
            symbolSize: 20,
            itemStyle: { color: dotGray, opacity: 1 },
            data: grayDots
          },
          {
            type: 'scatter',
            silent: true,
            symbolSize: 20,
            itemStyle: { color: '#0000FF', opacity: 1 },
            data: hitGenes
          },
          {
            type: 'scatter',
            silent: true,
            symbolSize: 0,
            z: 5,
            data: geneLabels.map(g => ({ name: g[0], value: [g[1], g[2]] })),
            label: {
              show: true,
              position: [0, 3],
              align: 'center',
              verticalAlign: 'middle',
              formatter: '{b}',
              fontFamily: fontName,
              fontSize: 36,
              color: '#000',
              textBorderColor: '#000',
              textBorderWidth: 0.3
            },
            labelLayout: { hideOverlap: false }
          }
        ]
      })
    </script>
  </body>
</html>
